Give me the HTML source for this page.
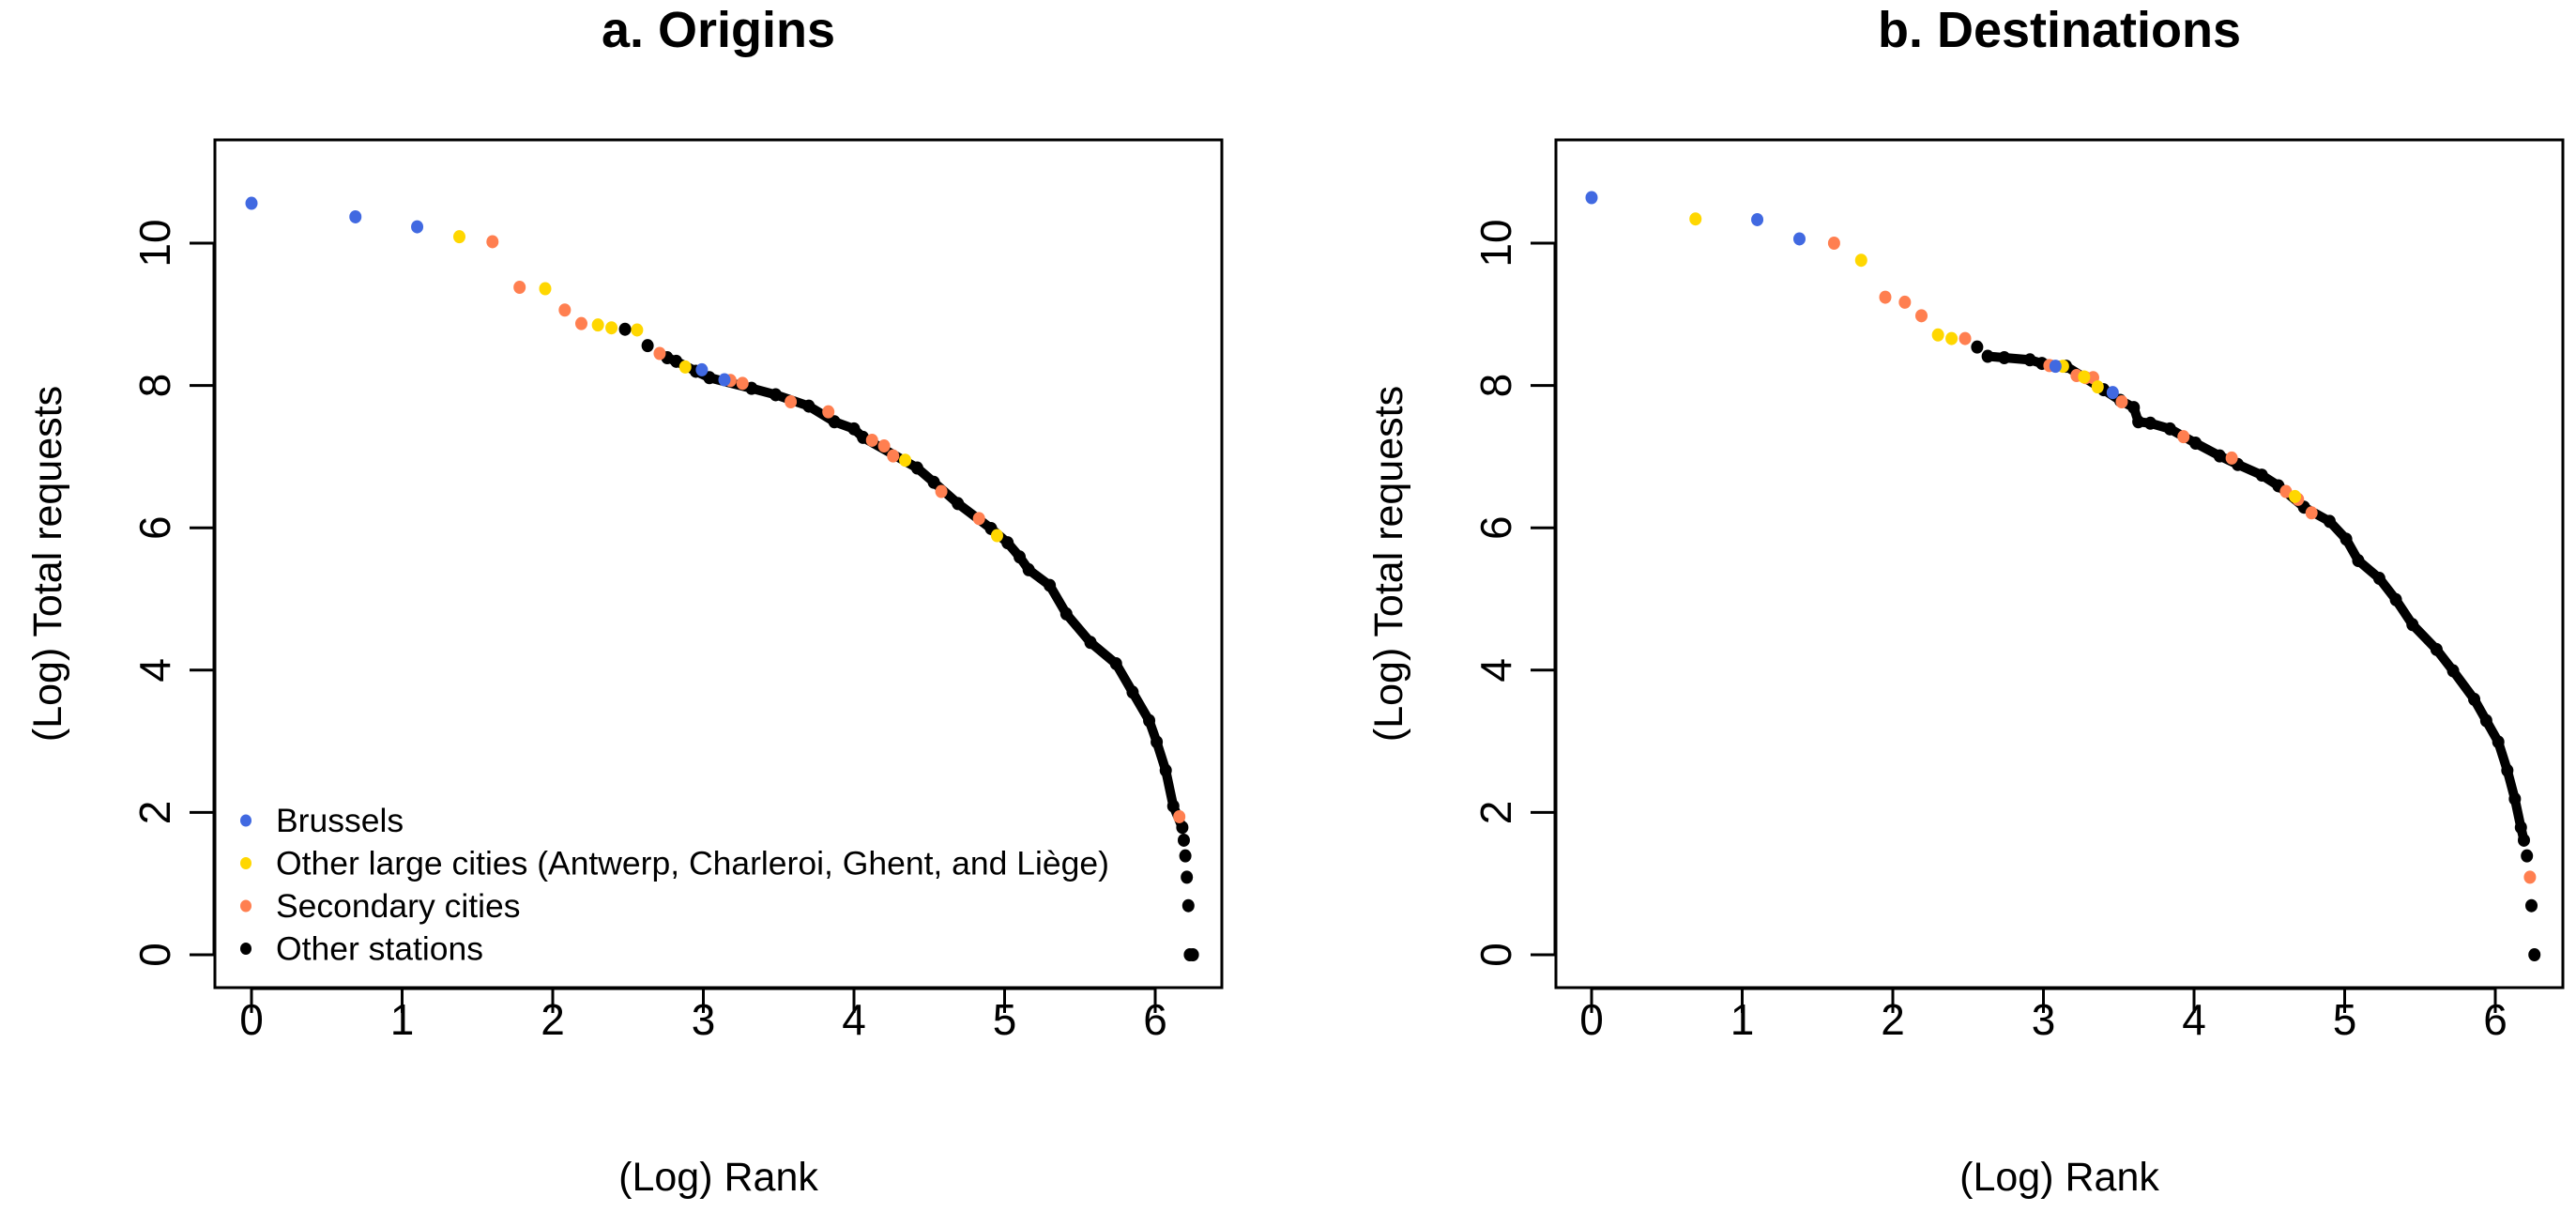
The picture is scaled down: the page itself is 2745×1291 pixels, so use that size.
<!DOCTYPE html>
<html><head><meta charset="utf-8"><style>
body{margin:0;background:#fff}
svg{display:block;font-family:"Liberation Sans",Arial,sans-serif}
</style></head><body>
<svg id="chart" width="2745" height="1291" viewBox="0 0 2745 1291" xmlns="http://www.w3.org/2000/svg"></svg>
<script>
// ---- data ----
const xTicks = [0,1,2,3,4,5,6];
const yTicks = [0,2,4,6,8,10];
const titles = ["a. Origins","b. Destinations"];
const legendLabels = ["Brussels","Other large cities (Antwerp, Charleroi, Ghent, and Liège)","Secondary cities","Other stations"];
const colors = ["#4169E1","#FFD700","#FF7F50","#000000"];

const oBlueX = [0,0.69,1.10,2.99,3.14];
const oBlueY = [10.56,10.37,10.23,8.22,8.08];
const oYellowX = [1.38,1.95,2.30,2.39,2.56,2.88,4.34,4.95];
const oYellowY = [10.09,9.36,8.85,8.81,8.78,8.26,6.95,5.89];
const oOrangeX = [1.60,1.78,2.08,2.19,2.71,3.18,3.26,3.58,3.83,4.12,4.20,4.26,4.58,4.83,6.16];
const oOrangeY = [10.02,9.38,9.06,8.87,8.45,8.07,8.03,7.77,7.63,7.23,7.15,7.01,6.51,6.13,1.94];
const oCurveX = [2.76,2.82,2.95,3.04,3.32,3.48,3.70,3.87,4.00,4.06,4.42,4.53,4.69,4.91,5.02,5.10,5.16,5.30,5.41,5.57,5.74,5.85,5.96,6.01,6.07,6.12,6.18];
const oCurveY = [8.39,8.34,8.20,8.11,7.96,7.87,7.71,7.49,7.39,7.27,6.84,6.64,6.34,5.99,5.79,5.59,5.41,5.19,4.79,4.39,4.09,3.69,3.29,2.99,2.59,2.09,1.79];
const oSparseX = [2.48,2.63,6.19,6.20,6.21,6.22,6.23,6.25];
const oSparseY = [8.79,8.56,1.61,1.39,1.09,0.69,0,0];

const dBlueX = [0,1.10,1.38,3.08,3.46];
const dBlueY = [10.64,10.33,10.06,8.27,7.90];
const dYellowX = [0.69,1.79,2.30,2.39,3.13,3.27,3.36,4.67];
const dYellowY = [10.34,9.76,8.71,8.66,8.27,8.12,7.98,6.44];
const dOrangeX = [1.61,1.95,2.08,2.19,2.48,3.04,3.22,3.28,3.33,3.52,3.93,4.25,4.61,4.69,4.78,6.23];
const dOrangeY = [10.0,9.24,9.17,8.98,8.66,8.28,8.14,8.11,8.11,7.77,7.28,6.98,6.51,6.40,6.21,1.09];
const dCurveX = [2.63,2.74,2.91,2.99,3.15,3.40,3.51,3.60,3.63,3.71,3.84,4.01,4.17,4.29,4.45,4.56,4.73,4.90,5.01,5.09,5.23,5.34,5.45,5.61,5.72,5.86,5.94,6.02,6.08,6.13,6.17,6.19];
const dCurveY = [8.41,8.39,8.36,8.31,8.27,7.94,7.79,7.69,7.49,7.47,7.39,7.19,7.01,6.89,6.74,6.59,6.29,6.09,5.84,5.54,5.29,4.99,4.64,4.29,3.99,3.59,3.29,2.99,2.59,2.19,1.79,1.61];
const dSparseX = [2.56,6.21,6.24,6.26];
const dSparseY = [8.54,1.39,0.69,0];

// ---- layout ----
const NS="http://www.w3.org/2000/svg";
const svg=document.getElementById('chart');
function mk(tag,attrs,parent){const e=document.createElementNS(NS,tag);for(const k in attrs)e.setAttribute(k,attrs[k]);(parent||svg).appendChild(e);return e;}
const panels=[
 {box:[229,149,1302,1052], x0:268, x1:1231, blue:[oBlueX,oBlueY], yellow:[oYellowX,oYellowY], orange:[oOrangeX,oOrangeY], curve:[oCurveX,oCurveY], sparse:[oSparseX,oSparseY], name:'origins', legend:true},
 {box:[1658,149,2731,1052], x0:1696, x1:2659, blue:[dBlueX,dBlueY], yellow:[dYellowX,dYellowY], orange:[dOrangeX,dOrangeY], curve:[dCurveX,dCurveY], sparse:[dSparseX,dSparseY], name:'destinations', legend:false}
];
const Y0=1017, Y10=259;
panels.forEach((p,pi)=>{
  const g=mk('g',{});
  
  
  const sx=v=>p.x0+(p.x1-p.x0)*v/6;
  const sy=v=>Y0+(Y10-Y0)*v/10;
  const [l,t,r,b]=p.box;
  const cx=(l+r)/2;
  const title=mk('text',{x:cx,y:50,'text-anchor':'middle','font-size':54,'font-weight':'bold'},g);
  title.textContent=titles[pi];
  
  
  const box=mk('rect',{x:l,y:t,width:r-l,height:b-t,fill:'none',stroke:'#000','stroke-width':3},g);
  
  
  const xa=mk('g',{},g);
  
  
  mk('line',{x1:sx(xTicks[0]),x2:sx(xTicks[xTicks.length-1]),y1:b+1,y2:b+1,stroke:'#000','stroke-width':3},xa);
  xTicks.forEach(v=>{
    mk('line',{x1:sx(v),x2:sx(v),y1:b,y2:b+27,stroke:'#000','stroke-width':3},xa);
    const tx=mk('text',{x:sx(v),y:1102,'text-anchor':'middle','font-size':46},xa);
    tx.textContent=v;
    
    
  });
  const xt=mk('text',{x:cx,y:1268,'text-anchor':'middle','font-size':43},g);
  xt.textContent='(Log) Rank';
  
  
  const ya=mk('g',{},g);
  
  
  mk('line',{x1:l-1,x2:l-1,y1:sy(0),y2:sy(10),stroke:'#000','stroke-width':3},ya);
  yTicks.forEach(v=>{
    mk('line',{x1:l-27,x2:l,y1:sy(v),y2:sy(v),stroke:'#000','stroke-width':3},ya);
    const tx=mk('text',{x:0,y:0,'text-anchor':'middle','font-size':46,transform:`translate(${l-48},${sy(v)}) rotate(-90)`},ya);
    tx.textContent=v;
    
    
  });
  const yt=mk('text',{x:0,y:0,'text-anchor':'middle','font-size':43,transform:`translate(${l-164},${(t+b)/2}) rotate(-90)`},g);
  yt.textContent='(Log) Total requests';
  
  
  const [cxs,cys]=p.curve;
  const pts=cxs.map((v,i)=>sx(v)+','+sy(cys[i])).join(' ');
  const pl=mk('polyline',{points:pts,fill:'none',stroke:'#000','stroke-width':10,'stroke-linecap':'round','stroke-linejoin':'round'},g);
  
  
  cxs.forEach((v,i)=>{
    const c=mk('ellipse',{cx:sx(v),cy:sy(cys[i]),rx:6.5,ry:7,fill:'#000'},g);
    
    
  });
  const groups=[['sparse',3,'other-station-point'],['orange',2,'secondary-city-point'],['yellow',1,'large-city-point'],['blue',0,'brussels-point']];
  groups.forEach(([key,ci,nm])=>{
    const [xs,ys]=p[key];
    xs.forEach((v,i)=>{
      const c=mk('ellipse',{cx:sx(v),cy:sy(ys[i]),rx:6.5,ry:7,fill:colors[ci]},g);
      
      
    });
  });
  if(p.legend){
    const lg=mk('g',{},g);
    
    
    legendLabels.forEach((lab,i)=>{
      const y=874+i*45.5;
      const e=mk('g',{},lg);
      
      
      mk('ellipse',{cx:262,cy:y,rx:6,ry:6.5,fill:colors[i]},e);
      const tx=mk('text',{x:294,y:y+12,'font-size':35.5},e);
      tx.textContent=lab;
    });
  }
});
</script>
</body></html>
